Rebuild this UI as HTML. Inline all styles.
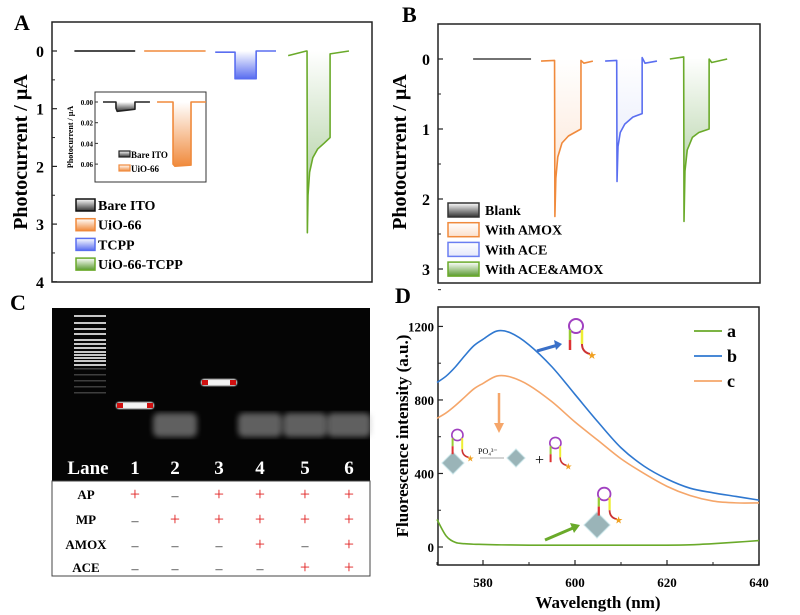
<!DOCTYPE html>
<html><head><meta charset="utf-8">
<style>
body{margin:0;background:#fff;}
svg{display:block;font-family:"Liberation Serif",serif;}
.t{font-weight:bold;}
</style></head>
<body>
<svg id="fig" width="800" height="615" viewBox="0 0 800 615" xmlns="http://www.w3.org/2000/svg">
<defs>
<linearGradient id="gK" x1="0" y1="0" x2="0" y2="1"><stop offset="0" stop-color="#fff"/><stop offset="1" stop-color="#333"/></linearGradient>
<linearGradient id="gO" x1="0" y1="0" x2="0" y2="1"><stop offset="0" stop-color="#fff"/><stop offset="1" stop-color="#f08a3c"/></linearGradient>
<linearGradient id="gB" x1="0" y1="0" x2="0" y2="1"><stop offset="0" stop-color="#fff"/><stop offset="1" stop-color="#5a6ef0"/></linearGradient>
<linearGradient id="gG" x1="0" y1="0" x2="0" y2="1"><stop offset="0" stop-color="#fff"/><stop offset="1" stop-color="#5a9a30"/></linearGradient>
<linearGradient id="gOl" x1="0" y1="0" x2="0" y2="1"><stop offset="0" stop-color="#fff"/><stop offset="1" stop-color="#fbe0cc"/></linearGradient>
<linearGradient id="gBl" x1="0" y1="0" x2="0" y2="1"><stop offset="0" stop-color="#fff"/><stop offset="1" stop-color="#e4e8fb"/></linearGradient>
<linearGradient id="gGl" x1="0" y1="0" x2="0" y2="1"><stop offset="0" stop-color="#fff"/><stop offset="1" stop-color="#9cc48a"/></linearGradient>
<filter id="blur2"><feGaussianBlur stdDeviation="3"/></filter>
<filter id="blur1"><feGaussianBlur stdDeviation="0.8"/></filter>
</defs>
<g id="A"></g>
<g id="B"></g>
<g id="C"></g>
<g id="D"></g>
</svg>
<script>
// ---------- DATA ----------
const aTicks = [0,1,2,3,4];
const aBare = [[7,0],[26,0]];
const aUio = [[28.8,0],[48,0]];
const aTcpp = [[51,0.02],[57.2,0.02],[57.2,0.48],[63.8,0.48],[63.8,0],[70,0]];
const aGreen = [[73.8,0.08],[79.5,0],[79.7,0],[79.8,3.15],[80,2.5],[80.5,2.1],[81.5,1.85],[83,1.7],[85,1.6],[86.9,1.5],[86.9,0.05],[92.8,0]];
const insetTicks = [0,0.02,0.04,0.06];
const inBare = [[7.2,0],[18.9,0],[18.9,0.006],[20,0.009],[36,0.007],[36,0],[49.5,0]];
const inUio = [[55.9,0],[70.3,0],[70.3,0.06],[72,0.062],[86.5,0.061],[86.5,0],[100,0]];
const aLegend = ["Bare ITO","UiO-66","TCPP","UiO-66-TCPP"];
const bTicks = [0,1,2,3];
const bBlank = [[10.9,0],[28.9,0]];
const bAmox = [[32,0.03],[36.2,0.02],[36.3,2.25],[36.6,1.7],[37.2,1.4],[38.5,1.2],[40.5,1.1],[44.4,1.0],[44.4,0.02],[45.3,0.06],[48.1,0.03]];
const bAce = [[51.9,0.03],[55.5,0.02],[55.6,1.75],[55.9,1.25],[56.6,1.05],[58,0.93],[60.5,0.83],[63.4,0.78],[63.4,-0.02],[64.3,0.06],[68,0.03]];
const bBoth = [[72,0],[76.3,-0.03],[76.4,2.32],[76.7,1.6],[77.4,1.3],[79,1.12],[81,1.05],[84.2,1.0],[84.2,0],[85,0.05],[89.8,0]];
const bLegend = ["Blank","With AMOX","With ACE","With ACE&AMOX"];
const lanes = ["1","2","3","4","5","6"];
const rowNames = ["AP","MP","AMOX","ACE"];
const rowAP = ["+","-","+","+","+","+"];
const rowMP = ["-","+","+","+","+","+"];
const rowAMOX = ["-","-","-","+","-","+"];
const rowACE = ["-","-","-","-","+","+"];
const dXTicks = [580,600,620,640];
const dYTicks = [0,400,800,1200];
const dWl = [570,572,574,576,578,580,583,586,590,595,600,605,610,615,620,625,630,635,640];
const dA = [150,60,25,18,15,14,12,11,10,10,10,10,10,10,10,12,18,26,35];
const dB = [895,930,980,1040,1095,1130,1175,1165,1100,980,830,680,540,440,370,320,295,275,255];
const dC = [700,730,770,815,860,890,930,925,880,790,680,580,480,400,330,280,250,240,240];
const dLegend = ["a","b","c"];

// ---------- HELPERS ----------
const NS="http://www.w3.org/2000/svg";
function mk(parent,tag,attrs,text){const e=document.createElementNS(NS,tag);for(const k in attrs)e.setAttribute(k,attrs[k]);if(text!==undefined)e.textContent=text;parent.appendChild(e);return e;}
function pathOf(pts,fx,fy){return pts.map((p,i)=>(i?"L":"M")+fx(p[0]).toFixed(2)+","+fy(p[1]).toFixed(2)).join("");}
function trace(g,pts,fx,fy,col,fill,name){
  const f=mk(g,"path",{d:pathOf(pts,fx,fy)+"L"+fx(pts[pts.length-1][0])+","+fy(0)+"L"+fx(pts[0][0])+","+fy(0)+"Z",fill:fill,stroke:"none"});
  
  
  const l=mk(g,"path",{d:pathOf(pts,fx,fy),fill:"none",stroke:col,"stroke-width":1.6,"stroke-linejoin":"round"});
  
  
}

// ---------- PANEL A ----------
(function(){
const g=document.getElementById("A");
const xA=t=>52+3.2*t, yA=v=>51+57.7*v;
const lab=mk(g,"text",{x:14,y:30,"font-size":22,class:"t"},"A");

const fr=mk(g,"rect",{x:52,y:22,width:320,height:260,fill:"none",stroke:"#222","stroke-width":1.5});

aTicks.forEach(v=>{
  const tl=mk(g,"line",{x1:52,x2:57,y1:yA(v),y2:yA(v),stroke:"#222","stroke-width":1.2});
  
  const tt=mk(g,"text",{x:44,y:yA(v)+6,"font-size":16,"text-anchor":"end",class:"t"},String(v));
  
  if(v<4){const m=mk(g,"line",{x1:52,x2:55,y1:yA(v+0.5),y2:yA(v+0.5),stroke:"#222"});}
});
const yt=mk(g,"text",{transform:"translate(27,152) rotate(-90)","font-size":20,"text-anchor":"middle",class:"t"},"Photocurrent / µA");

trace(g,aBare,xA,yA,"#111","url(#gK)","a-bare-ito");
trace(g,aUio,xA,yA,"#f08a3c","url(#gO)","a-uio66");
trace(g,aTcpp,xA,yA,"#5a6ef0","url(#gB)","a-tcpp");
trace(g,aGreen,xA,yA,"#6aaa2a","url(#gGl)","a-uio66-tcpp");
// inset
const ins=mk(g,"g",{});
mk(ins,"rect",{x:95,y:92,width:111,height:90,fill:"#fff",stroke:"#333","stroke-width":1});
const xI=t=>95+1.11*t, yI=v=>102+1035*v;
insetTicks.forEach(v=>{
  const tl=mk(ins,"line",{x1:95,x2:98,y1:yI(v),y2:yI(v),stroke:"#333"});
  
  const tt=mk(ins,"text",{x:93,y:yI(v)+3,"font-size":7,"text-anchor":"end",class:"t"},v.toFixed(2));
  
});
const it=mk(ins,"text",{transform:"translate(73,137) rotate(-90)","font-size":8,"text-anchor":"middle",class:"t"},"Photocurrent / µA");

trace(ins,inBare,xI,yI,"#222","url(#gK)","inset-bare-ito");
trace(ins,inUio,xI,yI,"#f08a3c","url(#gO)","inset-uio66");
[["Bare ITO","#222","url(#gK)"],["UiO-66","#f08a3c","url(#gO)"]].forEach((e,i)=>{
  const y=155+14*i;
  const s=mk(ins,"rect",{x:119,y:y-4,width:11,height:6,fill:e[2],stroke:e[1],"stroke-width":1.2});
  
  const t=mk(ins,"text",{x:131,y:y+3,"font-size":9,class:"t"},e[0]);
  
});
const cols=[["#111","url(#gK)"],["#f08a3c","url(#gO)"],["#5a6ef0","url(#gB)"],["#6aaa2a","url(#gG)"]];
aLegend.forEach((n,i)=>{
  const y=205+19.7*i;
  const s=mk(g,"rect",{x:76,y:y-6,width:19,height:12,fill:cols[i][1],stroke:cols[i][0],"stroke-width":1.5});
  
  const t=mk(g,"text",{x:98,y:y+5,"font-size":14,class:"t"},n);
  
});
})();

// ---------- PANEL B ----------
(function(){
const g=document.getElementById("B");
const xB=t=>438+3.22*t, yB=v=>59+70*v;
const lab=mk(g,"text",{x:402,y:22,"font-size":22,class:"t"},"B");

const fr=mk(g,"rect",{x:438,y:24,width:322,height:259,fill:"none",stroke:"#222","stroke-width":1.5});

bTicks.forEach(v=>{
  const tl=mk(g,"line",{x1:438,x2:443,y1:yB(v),y2:yB(v),stroke:"#222","stroke-width":1.2});
  
  const tt=mk(g,"text",{x:430,y:yB(v)+6,"font-size":16,"text-anchor":"end",class:"t"},String(v));
  
  if(v<3){const m=mk(g,"line",{x1:438,x2:441,y1:yB(v+0.5),y2:yB(v+0.5),stroke:"#222"});}
});
const yt=mk(g,"text",{transform:"translate(406,152) rotate(-90)","font-size":20,"text-anchor":"middle",class:"t"},"Photocurrent / µA");

trace(g,bBlank,xB,yB,"#444","url(#gK)","b-blank");
trace(g,bAmox,xB,yB,"#f08a3c","url(#gOl)","b-with-amox");
trace(g,bAce,xB,yB,"#5a6ef0","url(#gBl)","b-with-ace");
trace(g,bBoth,xB,yB,"#6aaa2a","url(#gGl)","b-with-ace-amox");
const cols=[["#333","url(#gK)"],["#f08a3c","url(#gOl)"],["#6a7ef2","url(#gBl)"],["#6aaa2a","url(#gG)"]];
bLegend.forEach((n,i)=>{
  const y=210+19.7*i;
  const s=mk(g,"rect",{x:448,y:y-7,width:31,height:14,fill:cols[i][1],stroke:cols[i][0],"stroke-width":1.5});
  
  const t=mk(g,"text",{x:485,y:y+5,"font-size":14,class:"t"},n);
  
});
})();

// ---------- PANEL C ----------
(function(){
const g=document.getElementById("C");
const lab=mk(g,"text",{x:10,y:310,"font-size":22,class:"t"},"C");

const gel=mk(g,"rect",{x:52,y:308,width:318,height:173,fill:"#050505"});

const tb=mk(g,"rect",{x:52,y:481,width:318,height:95,fill:"#fff",stroke:"#444","stroke-width":1});

// ladder
const lad=mk(g,"g",{});
[315,322,328,333,339,343,347,351,354,357,360,364,368,374,380,386,392].forEach((y,i)=>{
  mk(lad,"rect",{x:74,y:y,width:32,height:i<12?2:1.5,fill:i<12?"#ddd":"#777",opacity:i<12?0.9:0.5});
});
const laneX=[135,175,219,260,305,349];
// diffuse bands
[1,3,4,5].forEach(i=>{
  const b=mk(g,"rect",{x:laneX[i]-22,y:413,width:44,height:24,rx:6,fill:"#bbb",opacity:0.5,filter:"url(#blur2)"});
  
});
[[135,402,38],[219,379,36]].forEach(b=>{
  const e=mk(g,"rect",{x:b[0]-b[2]/2,y:b[1],width:b[2],height:7,rx:3,fill:"#f4f4f4",filter:"url(#blur1)"});
  
  mk(g,"rect",{x:b[0]-b[2]/2+1,y:b[1]+1,width:6,height:5,fill:"#d01010"});
  mk(g,"rect",{x:b[0]+b[2]/2-7,y:b[1]+1,width:6,height:5,fill:"#d01010"});
});
const ln=mk(g,"text",{x:88,y:474,"font-size":19,"text-anchor":"middle",fill:"#fff",class:"t"},"Lane");

lanes.forEach((l,i)=>{
  const t=mk(g,"text",{x:laneX[i],y:474,"font-size":19,"text-anchor":"middle",fill:"#fff",class:"t"},l);
  
});
const rows=[rowAP,rowMP,rowAMOX,rowACE], rowY=[494,519,544,567];
rowNames.forEach((n,r)=>{
  const t=mk(g,"text",{x:86,y:rowY[r]+5,"font-size":13,"text-anchor":"middle",class:"t"},n);
  
  rows[r].forEach((s,i)=>{
    const c=mk(g,"text",{x:laneX[i],y:rowY[r]+6,"font-size":s==="+"?18:14,"text-anchor":"middle",fill:s==="+"?"#e02020":"#222"},s==="+"?"+":"–");
    
  });
});
})();

// ---------- PANEL D ----------
(function(){
const g=document.getElementById("D");
const xD=w=>437+4.6*(w-570), yD=v=>547-0.1838*v;
const lab=mk(g,"text",{x:395,y:303,"font-size":22,class:"t"},"D");

const fr=mk(g,"rect",{x:438,y:307,width:321,height:258,fill:"none",stroke:"#222","stroke-width":1.5});

dYTicks.forEach(v=>{
  const tl=mk(g,"line",{x1:438,x2:443,y1:yD(v),y2:yD(v),stroke:"#222","stroke-width":1.2});
  
  const tt=mk(g,"text",{x:434,y:yD(v)+5,"font-size":13,"text-anchor":"end",class:"t"},String(v));
  
  const m=mk(g,"line",{x1:438,x2:441,y1:yD(v+200),y2:yD(v+200),stroke:"#222"});
});
dXTicks.forEach(w=>{
  const tl=mk(g,"line",{x1:xD(w),x2:xD(w),y1:565,y2:560,stroke:"#222","stroke-width":1.2});
  
  const tt=mk(g,"text",{x:xD(w),y:587,"font-size":13,"text-anchor":"middle",class:"t"},String(w));
  
  const m=mk(g,"line",{x1:xD(w-10),x2:xD(w-10),y1:565,y2:562,stroke:"#222"});
});
const xt=mk(g,"text",{x:598,y:608,"font-size":17,"text-anchor":"middle",class:"t"},"Wavelength (nm)");

const yt=mk(g,"text",{transform:"translate(408,436) rotate(-90)","font-size":17,"text-anchor":"middle",class:"t"},"Fluorescence intensity (a.u.)");

const series=[[dA,"#6aaa2a","curve-a"],[dB,"#2f78d0","curve-b"],[dC,"#f5a66a","curve-c"]];
series.forEach(s=>{
  const pts=dWl.map((w,i)=>[xD(w),yD(s[0][i])]);
  let d="M"+pts[0][0]+","+pts[0][1];
  for(let i=0;i<pts.length-1;i++){
    const p0=pts[i-1]||pts[i],p1=pts[i],p2=pts[i+1],p3=pts[i+2]||p2;
    d+="C"+(p1[0]+(p2[0]-p0[0])/6)+","+(p1[1]+(p2[1]-p0[1])/6)+" "+(p2[0]-(p3[0]-p1[0])/6)+","+(p2[1]-(p3[1]-p1[1])/6)+" "+p2[0]+","+p2[1];
  }
  const l=mk(g,"path",{d:d,fill:"none",stroke:s[1],"stroke-width":1.6});
  
});
const lc=["#6aaa2a","#2f78d0","#f5a66a"];
dLegend.forEach((n,i)=>{
  const y=331+25*i;
  const l=mk(g,"line",{x1:694,x2:722,y1:y,y2:y,stroke:lc[i],"stroke-width":1.8});
  
  const t=mk(g,"text",{x:727,y:y+6,"font-size":18,class:"t"},n);
  
});
// cartoons
function hairpin(x,y,s,name){
  const h=mk(g,"g",{transform:`translate(${x},${y}) scale(${s})`});
  
  mk(h,"circle",{cx:8,cy:0,r:7,fill:"none",stroke:"#a040c0","stroke-width":2});
  mk(h,"line",{x1:2,y1:4,x2:2,y2:14,stroke:"#9c3",  "stroke-width":2.5});
  mk(h,"line",{x1:14,y1:4,x2:14,y2:18,stroke:"#ee3","stroke-width":2.5});
  mk(h,"line",{x1:2,y1:14,x2:2,y2:24,stroke:"#d33","stroke-width":2.5});
  mk(h,"path",{d:"M14,18 Q14,26 22,28",fill:"none",stroke:"#c33","stroke-width":2});
  mk(h,"text",{x:19,y:33,"font-size":11,fill:"#f0a020"},"★");
  return h;
}
function octa(x,y,s,name){
  const o=mk(g,"polygon",{points:`${x},${y-s} ${x+s},${y} ${x},${y+s} ${x-s},${y}`,fill:"#9ab4b8",stroke:"#c9e4e8","stroke-width":1});
  
}
hairpin(568,326,1,"hairpin-open-cartoon");
const a1=mk(g,"path",{d:"M537,351 L558,345",stroke:"#3a70c8","stroke-width":3,fill:"none"});
mk(g,"polygon",{points:"562,344 554,340 556,350",fill:"#3a70c8"});
const a2=mk(g,"line",{x1:499,y1:393,x2:499,y2:425,stroke:"#f5a66a","stroke-width":2.5});
mk(g,"polygon",{points:"494,423 504,423 499,433",fill:"#f5a66a"});
octa(453,463,11,"mof-octahedron");
hairpin(451,435,0.8,"hairpin-on-mof");
const po=mk(g,"text",{x:478,y:454,"font-size":8},"PO₄³⁻");
mk(g,"line",{x1:480,y1:458,x2:504,y2:458,stroke:"#aaa","stroke-width":1});
octa(516,458,9,"mof-octahedron-free");
const pl=mk(g,"text",{x:535,y:465,"font-size":16},"+");
hairpin(549,443,0.8,"hairpin-released");
octa(597,525,13,"mof-octahedron-quenched");
hairpin(597,494,0.9,"hairpin-quenched");
const a3=mk(g,"path",{d:"M545,540 L573,528",stroke:"#6aaa2a","stroke-width":3,fill:"none"});
mk(g,"polygon",{points:"580,525 570,523 574,533",fill:"#6aaa2a"});
})();
</script>
</body></html>
